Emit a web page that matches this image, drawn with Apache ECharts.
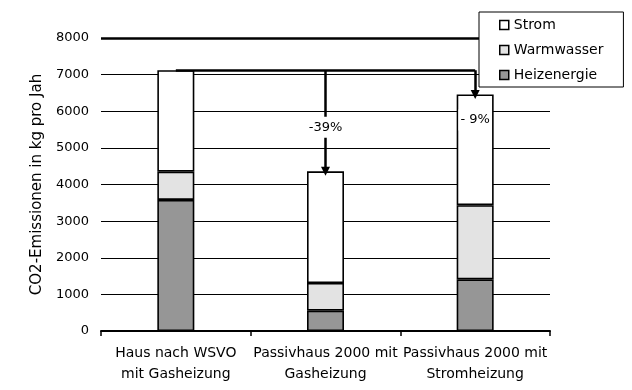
<!DOCTYPE html>
<html><head><meta charset="utf-8">
<script src="https://cdn.jsdelivr.net/npm/echarts@6/dist/echarts.min.js"></script>
<style>html,body{margin:0;padding:0;background:#fff}#c{width:632px;height:390px}</style>
</head><body><div id="c"></div>
<script>
var categories = ['Haus nach WSVO\nmit Gasheizung', 'Passivhaus 2000 mit\nGasheizung', 'Passivhaus 2000 mit\nStromheizung'];
var heizenergie = [3580, 555, 1410];
var warmwasser = [770, 755, 2025];
var strom = [2770, 3050, 3025];
var yTicks = [0, 1000, 2000, 3000, 4000, 5000, 6000, 7000, 8000];
var changeLabels = ['-39%', '- 9%'];

var totals = categories.map(function (c, i) { return heizenergie[i] + warmwasser[i] + strom[i]; });
var font = 'DejaVu Sans';
var chart = echarts.init(document.getElementById('c'), null, { renderer: 'canvas' });
var baseStyle = { borderColor: '#000', borderWidth: 1.6 };
var arrowLine = { color: '#000', width: 2.5, type: 'solid' };
chart.setOption({
  animation: false,
  backgroundColor: '#fff',
  textStyle: { fontFamily: font, color: '#000' },
  grid: { left: 101, right: 82, top: 38, bottom: 59 },
  legend: {
    data: ['Strom', 'Warmwasser', 'Heizenergie'],
    orient: 'vertical', left: 479, top: 12, icon: 'rect',
    backgroundColor: '#fff', borderColor: '#000', borderWidth: 1,
    padding: [5, 20, 4, 20], itemWidth: 9, itemHeight: 9, itemGap: 9,
    itemStyle: { borderColor: '#000', borderWidth: 1.5 },
    textStyle: { fontFamily: font, fontSize: 14, color: '#000', lineHeight: 16 },
    z: 20
  },
  xAxis: {
    type: 'category', data: categories,
    axisLine: { lineStyle: { color: '#000', width: 2 } },
    axisTick: { show: true, length: 5, lineStyle: { color: '#000', width: 1.5 } },
    axisLabel: { fontFamily: font, fontSize: 14, color: '#000', lineHeight: 21, margin: 12, interval: 0 },
    splitLine: { show: false }
  },
  yAxis: {
    type: 'value', min: yTicks[0], max: yTicks[yTicks.length - 1], interval: 1000,
    name: 'CO2-Emissionen in kg pro Jah', nameLocation: 'middle', nameGap: 40,
    nameTextStyle: { fontFamily: font, fontSize: 15, color: '#000' },
    axisLine: { show: false }, axisTick: { show: false },
    axisLabel: { fontFamily: font, fontSize: 13, color: '#000', margin: 12,
      formatter: function (v) { return String(v); } },
    splitLine: { lineStyle: { color: '#000', width: 1 } }
  },
  series: [
    { name: 'Heizenergie', type: 'bar', stack: 's', data: heizenergie, barWidth: 37,
      itemStyle: Object.assign({ color: '#969696' }, baseStyle) },
    { name: 'Warmwasser', type: 'bar', stack: 's', data: warmwasser, barWidth: 37,
      itemStyle: Object.assign({ color: '#e3e3e3' }, baseStyle) },
    { name: 'Strom', type: 'bar', stack: 's', data: strom, barWidth: 37,
      itemStyle: Object.assign({ color: '#ffffff' }, baseStyle),
      markLine: {
        silent: true, symbol: ['none', 'none'], z: 5,
        label: { show: false },
        data: [
          { yAxis: yTicks[yTicks.length - 1], lineStyle: { width: 2.5, color: '#000', type: 'solid' } },
          [{ coord: [0, totals[0]], lineStyle: arrowLine }, { coord: [2, totals[0]] }],
          [{ coord: [1, totals[0]], lineStyle: arrowLine }, { coord: [1, totals[1]], symbol: 'triangle', symbolSize: [9, 9], symbolRotate: 180 }],
          [{ coord: [2, totals[0]], lineStyle: arrowLine }, { coord: [2, totals[2]], symbol: 'triangle', symbolSize: [9, 9], symbolRotate: 180 }]
        ]
      },
      markPoint: {
        silent: true, symbol: 'rect', symbolSize: 0, z: 10,
        label: { show: true, position: 'inside', fontFamily: font, fontSize: 13, color: '#000',
          backgroundColor: '#fff', padding: [4, 2, 4, 2] },
        data: [
          { coord: [1, 5560], value: changeLabels[0], label: { formatter: changeLabels[0] } },
          { coord: [2, 5760], value: changeLabels[1], label: { formatter: changeLabels[1] } }
        ]
      }
    }
  ]
});
</script></body></html>
